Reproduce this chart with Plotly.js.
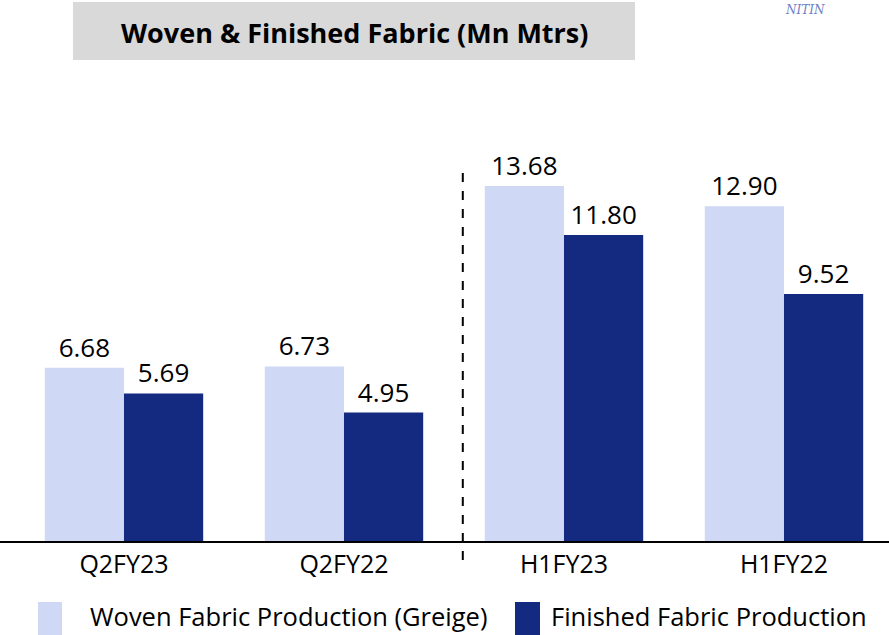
<!DOCTYPE html>
<html><head><meta charset="utf-8">
<script src="https://cdn.plot.ly/plotly-3.0.1.min.js"></script>
<style>html,body{margin:0;padding:0;background:#fff}#c{width:889px;height:635px}</style>
</head><body><div id="c"></div>
<script>
const categories = ["Q2FY23", "Q2FY22", "H1FY23", "H1FY22"];
const wovenValues = [6.68, 6.73, 13.68, 12.90];
const finishedValues = [5.69, 4.95, 11.80, 9.52];
const seriesNames = ["Woven Fabric Production (Greige)", "Finished Fabric Production"];
const chartTitle = "Woven & Finished Fabric (Mn Mtrs)";

const FONT = "'Open Sans', sans-serif";
const light = "#cfd9f5", dark = "#132a80";

const traces = [
  {type:"bar", name:seriesNames[0], x:categories, y:wovenValues, marker:{color:light},
   text:wovenValues.map(v=>v.toFixed(2)), textposition:"outside", cliponaxis:false,
   textfont:{family:FONT,size:26,color:"#000"}, showlegend:false, hoverinfo:"x+y"},
  {type:"bar", name:seriesNames[1], x:categories, y:finishedValues, marker:{color:dark},
   text:finishedValues.map(v=>v.toFixed(2)), textposition:"outside", cliponaxis:false,
   textfont:{family:FONT,size:26,color:"#000"}, showlegend:false, hoverinfo:"x+y"}
];

const layout = {
  width:889, height:635,
  margin:{l:0, r:0, t:80, b:94},
  paper_bgcolor:"#fff", plot_bgcolor:"#fff",
  barmode:"group", bargap:0.28, bargroupgap:0,
  xaxis:{type:"category", range:[-0.5636, 3.4773], showline:true, linecolor:"#000", linewidth:1.5,
    ticks:"", tickfont:{family:FONT,size:25,color:"#000"}, showgrid:false, zeroline:false, fixedrange:true},
  yaxis:{range:[0, 17.77], visible:false, showgrid:false, zeroline:false, fixedrange:true},
  shapes:[
    {type:"rect", xref:"paper", yref:"paper", x0:73/889, x1:635/889, y0:(541-60)/461, y1:(541-2)/461,
     fillcolor:"#d9d9d9", line:{width:0}, layer:"below"},
    {type:"line", xref:"x", yref:"paper", x0:1.54, x1:1.54, y0:(541-560)/461, y1:(541-172)/461,
     line:{color:"#000", width:2, dash:"dash"}},
    {type:"rect", xref:"paper", yref:"paper", x0:38/889, x1:62/889, y0:(541-635)/461, y1:(541-602)/461,
     fillcolor:light, line:{width:0}},
    {type:"rect", xref:"paper", yref:"paper", x0:515/889, x1:540/889, y0:(541-635)/461, y1:(541-602)/461,
     fillcolor:dark, line:{width:0}}
  ],
  annotations:[
    {text:"<b>"+chartTitle+"</b>", xref:"paper", yref:"paper", x:354/889, y:(541-32)/461,
     xanchor:"center", yanchor:"middle", showarrow:false, font:{family:FONT,size:27,color:"#000"}},
    {text:seriesNames[0], xref:"paper", yref:"paper", x:88/889, y:(541-616)/461,
     xanchor:"left", yanchor:"middle", showarrow:false, font:{family:FONT,size:25.5,color:"#000"}},
    {text:seriesNames[1], xref:"paper", yref:"paper", x:549/889, y:(541-616)/461,
     xanchor:"left", yanchor:"middle", showarrow:false, font:{family:FONT,size:25.5,color:"#000"}},
    {text:"<i>NITIN</i>", xref:"paper", yref:"paper", x:805/889, y:(541-1)/461,
     xanchor:"center", yanchor:"top", showarrow:false,
     font:{family:"'DejaVu Serif', serif",size:12,color:"#6a80c8"}}
  ]
};
Plotly.newPlot("c", traces, layout, {displayModeBar:false, staticPlot:true});
</script>
</body></html>
